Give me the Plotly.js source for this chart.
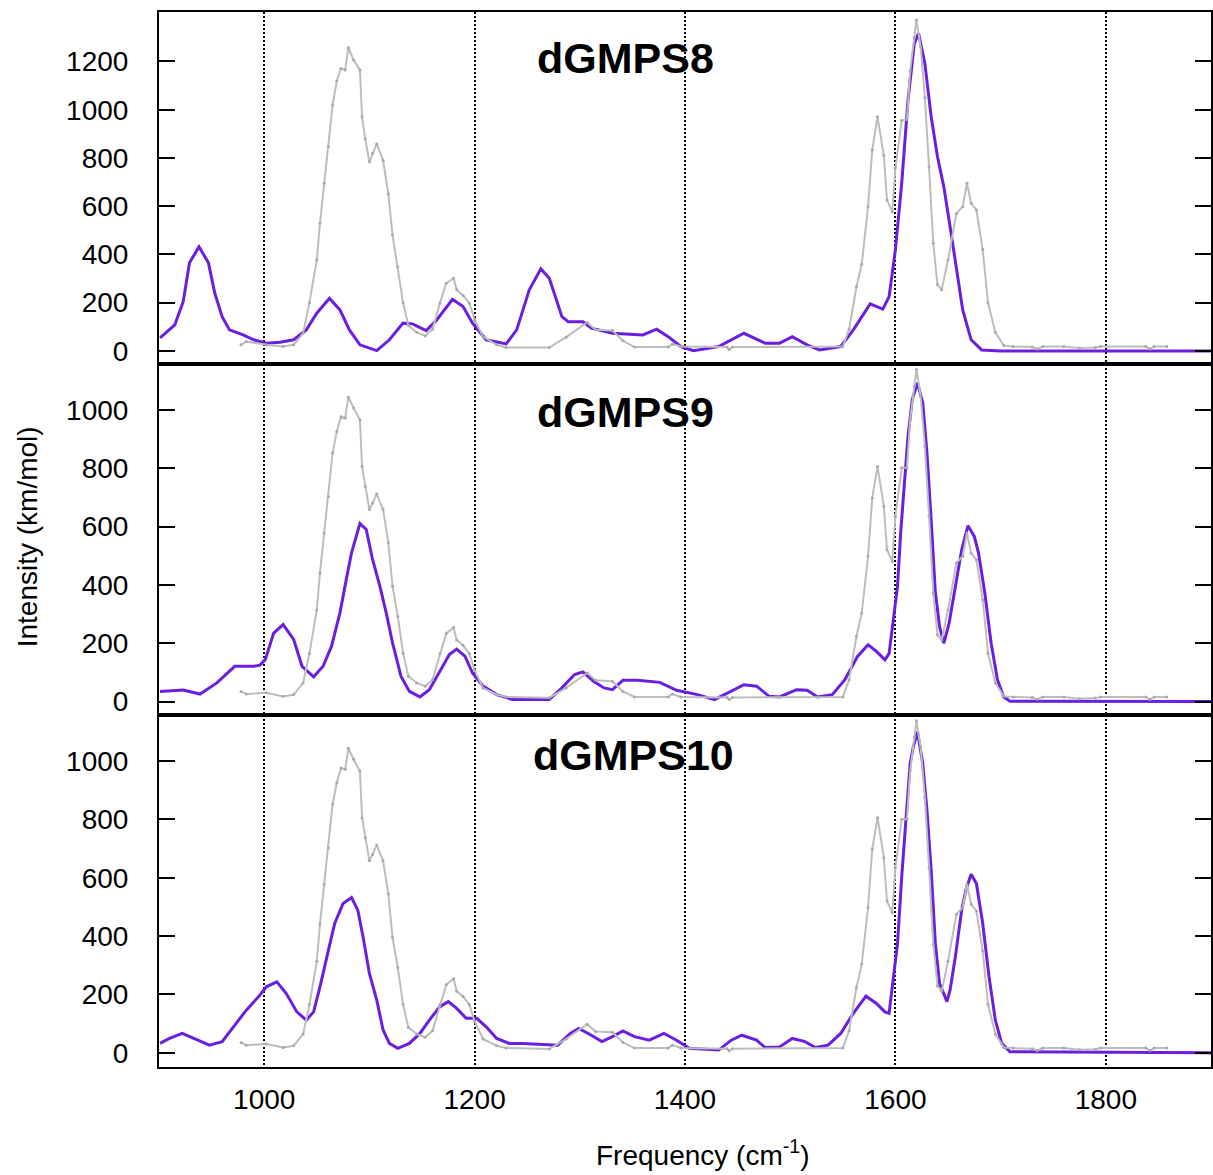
<!DOCTYPE html>
<html>
<head>
<meta charset="utf-8">
<script src="https://cdn.plot.ly/plotly-3.0.1.min.js"></script>
<style>html,body{margin:0;padding:0;background:#fff;}#chart{width:1213px;height:1175px;}</style>
</head>
<body>
<div id="chart"></div>
<script>
// ---- Data ----
// Experimental spectrum (grey), frequencies in cm-1
const expFreq = [978,983,1002,1018,1028,1037,1043,1050,1053,1057,1061,1065,1069,1073,1077,1080,1085,1091,1093,1096,1100,1103,1107,1113,1118,1122,1127,1132,1137,1145,1153,1160,1167,1173,1180,1183,1189,1195,1200,1208,1221,1230,1271,1287,1307,1315,1331,1341,1352,1384,1388,1396,1440,1442,1445,1550,1556,1563,1568,1574,1578,1583,1589,1592,1597,1600,1606,1611,1614,1618,1620,1624,1628,1632,1636,1640,1644,1650,1658,1664,1668,1672,1677,1683,1688,1695,1703,1712,1730,1735,1740,1760,1775,1790,1795,1838,1842,1846,1858];
// grey curve as drawn in the dGMPS8 panel
const expIntTop = [25,39,25,18,25,73,200,377,529,695,847,1019,1120,1171,1165,1257,1206,1165,971,880,784,819,858,790,650,480,349,200,105,77,62,90,198,280,301,253,230,198,130,59,25,14,14,57,118,88,84,42,16,16,28,18,16,6,16,18,90,266,360,598,833,971,810,626,577,760,955,960,1160,1300,1372,1260,1050,762,446,274,253,377,570,598,695,612,584,420,200,77,22,18,16,8,18,18,12,14,18,18,8,18,18];
// grey curve as drawn in the dGMPS9 and dGMPS10 panels
const expInt = [35,26,30,18,24,64,165,314,441,578,703,852,926,976,972,1044,1006,966,806,737,658,680,712,658,544,395,292,166,87,64,53,75,165,233,254,211,193,165,108,47,24,16,13,47,98,73,70,35,16,16,26,16,14,7,14,16,75,224,304,498,698,806,669,520,480,635,801,801,966,1081,1138,1047,875,635,372,229,211,314,475,498,578,509,486,349,166,64,18,16,14,8,16,16,10,12,16,16,8,16,16];

// Computed spectrum dGMPS8 (purple)
const freq8 = [901,915,923,929,938,947,953,960,967,980,990,1002,1015,1028,1040,1050,1062,1072,1081,1091,1107,1119,1132,1141,1154,1164,1179,1189,1198,1211,1230,1240,1252,1263,1271,1277,1283,1289,1303,1311,1331,1360,1373,1384,1396,1408,1432,1456,1476,1490,1502,1516,1528,1548,1560,1576,1588,1594,1600,1606,1612,1618,1622,1628,1634,1640,1646,1652,1658,1664,1672,1682,1700,1900];
const int8 = [54,108,204,365,432,365,240,142,87,66,46,32,36,46,87,156,218,170,87,25,1,46,115,112,84,128,214,184,115,46,29,87,253,340,301,225,142,121,121,94,73,66,90,59,18,1,18,73,32,32,59,25,4,18,87,195,173,225,419,695,1040,1275,1317,1192,971,805,681,515,349,170,46,4,0,0];

// Computed spectrum dGMPS9 (purple)
const freq9 = [901,923,939,955,972,990,996,1001,1009,1018,1028,1036,1047,1056,1064,1072,1078,1083,1091,1097,1103,1110,1116,1122,1130,1138,1148,1157,1167,1176,1183,1191,1198,1208,1221,1236,1271,1283,1295,1303,1313,1323,1331,1341,1355,1376,1392,1412,1428,1444,1456,1468,1480,1490,1506,1516,1526,1540,1552,1564,1574,1582,1590,1594,1598,1602,1605,1608,1612,1616,1621,1626,1630,1634,1638,1642,1646,1651,1657,1663,1669,1675,1679,1685,1691,1697,1703,1709,1900];
const int9 = [35,40,26,64,121,121,125,144,235,264,213,121,85,121,190,304,418,510,610,590,487,395,304,201,87,35,16,41,104,161,180,155,98,53,24,7,7,47,93,102,70,47,41,73,73,66,39,24,7,35,58,53,18,16,41,39,16,24,75,155,195,172,143,165,280,395,578,715,910,1035,1092,1024,852,623,372,257,200,268,395,520,603,566,509,372,200,75,16,1,0];

// Computed spectrum dGMPS10 (purple)
const freq10 = [901,910,922,933,948,960,971,983,996,1002,1012,1021,1031,1040,1047,1053,1061,1067,1075,1083,1089,1094,1100,1107,1113,1119,1127,1138,1148,1157,1167,1175,1183,1192,1202,1211,1221,1233,1246,1279,1291,1299,1311,1321,1331,1341,1352,1366,1380,1392,1404,1432,1444,1454,1468,1476,1490,1502,1514,1524,1536,1548,1560,1572,1582,1590,1594,1598,1602,1606,1610,1614,1617,1621,1626,1630,1634,1638,1642,1649,1652,1657,1663,1667,1672,1677,1683,1689,1695,1701,1709,1900];
const int10 = [32,49,66,49,26,38,89,146,198,226,243,203,140,112,140,226,351,443,512,532,489,397,272,180,78,32,15,32,66,112,158,175,152,118,118,89,49,32,32,26,66,83,60,38,55,75,55,43,66,43,15,9,43,60,43,18,20,49,38,18,26,66,135,194,169,140,135,260,374,603,798,992,1049,1100,992,832,626,374,237,175,215,329,489,558,612,580,443,260,112,32,3,0];

const panelNames = ['dGMPS8','dGMPS9','dGMPS10'];
const gridFreqs = [1000,1200,1400,1600,1800];
const yTicksTop = [0,200,400,600,800,1000,1200];
const yTicksLow = [0,200,400,600,800,1000];

// ---- Styling ----
const PURPLE = '#6a1ee0';
const GREY = '#bdbdbd';
const FONT = 'Liberation Sans, Arial, Helvetica, sans-serif';

function calcTrace(x, y, xa, ya) {
  return {x: x, y: y, xaxis: xa, yaxis: ya, type: 'scatter', mode: 'lines',
    line: {color: PURPLE, width: 3}, hoverinfo: 'skip', showlegend: false};
}
function expTrace(x, y, xa, ya) {
  return {x: x, y: y, xaxis: xa, yaxis: ya, type: 'scatter', mode: 'lines+markers',
    line: {color: GREY, width: 2}, marker: {color: '#a9a9a9', size: 3},
    hoverinfo: 'skip', showlegend: false};
}

const data = [
  calcTrace(freq8, int8, 'x', 'y'),
  expTrace(expFreq, expIntTop, 'x', 'y'),
  calcTrace(freq9, int9, 'x2', 'y2'),
  expTrace(expFreq, expInt, 'x2', 'y2'),
  calcTrace(freq10, int10, 'x3', 'y3'),
  expTrace(expFreq, expInt, 'x3', 'y3')
];

function xAxis(anchor, showLabels) {
  return {
    anchor: anchor, domain: [0, 1], range: [900, 1900],
    tickvals: gridFreqs, showticklabels: showLabels, ticks: '',
    showgrid: true, gridcolor: '#000', gridwidth: 2, griddash: '2px,2px',
    showline: true, linecolor: '#000', linewidth: 2, mirror: true,
    zeroline: false, ticklabelstandoff: 6,
    tickfont: {family: FONT, size: 28, color: '#000'}
  };
}
function yAxis(anchor, domain, range, ticks) {
  return {
    anchor: anchor, domain: domain, range: range, tickvals: ticks,
    ticks: 'inside', ticklen: 16, tickwidth: 2, tickcolor: '#000',
    showline: true, linecolor: '#000', linewidth: 2, mirror: 'ticks',
    showgrid: false, zeroline: false, ticklabelstandoff: 23,
    tickfont: {family: FONT, size: 28, color: '#000'}
  };
}

const layout = {
  width: 1213, height: 1175,
  margin: {l: 159, r: 2, t: 12, b: 108},
  paper_bgcolor: '#fff', plot_bgcolor: '#fff',
  font: {family: FONT, color: '#000'},
  xaxis: xAxis('y', false),
  xaxis2: xAxis('y2', false),
  xaxis3: xAxis('y3', true),
  yaxis: yAxis('x', [2/3, 1], [-53, 1405], yTicksTop),
  yaxis2: yAxis('x2', [1/3, 2/3], [-47, 1158], yTicksLow),
  yaxis3: yAxis('x3', [0, 1/3], [-49, 1157], yTicksLow),
  annotations: [
    {text: '<b>' + panelNames[0] + '</b>', xref: 'paper', yref: 'paper', x: 0.443, y: 0.956,
     xanchor: 'center', yanchor: 'middle', showarrow: false, font: {family: FONT, size: 43, color: '#000'}},
    {text: '<b>' + panelNames[1] + '</b>', xref: 'paper', yref: 'paper', x: 0.443, y: 0.621,
     xanchor: 'center', yanchor: 'middle', showarrow: false, font: {family: FONT, size: 43, color: '#000'}},
    {text: '<b>' + panelNames[2] + '</b>', xref: 'paper', yref: 'paper', x: 0.4515, y: 0.2957,
     xanchor: 'center', yanchor: 'middle', showarrow: false, font: {family: FONT, size: 43, color: '#000'}},
    {text: 'Intensity (km/mol)', xref: 'paper', yref: 'paper', x: -0.1255, y: 0.503,
     xanchor: 'center', yanchor: 'middle', textangle: -90, showarrow: false,
     font: {family: FONT, size: 28, color: '#000'}},
    {text: 'Frequency (cm<sup>-1</sup>)', xref: 'paper', yref: 'paper', x: 0.517, y: -0.0815,
     xanchor: 'center', yanchor: 'middle', showarrow: false,
     font: {family: FONT, size: 28, color: '#000'}}
  ]
};

Plotly.newPlot('chart', data, layout, {staticPlot: true, displayModeBar: false});
</script>
</body>
</html>
